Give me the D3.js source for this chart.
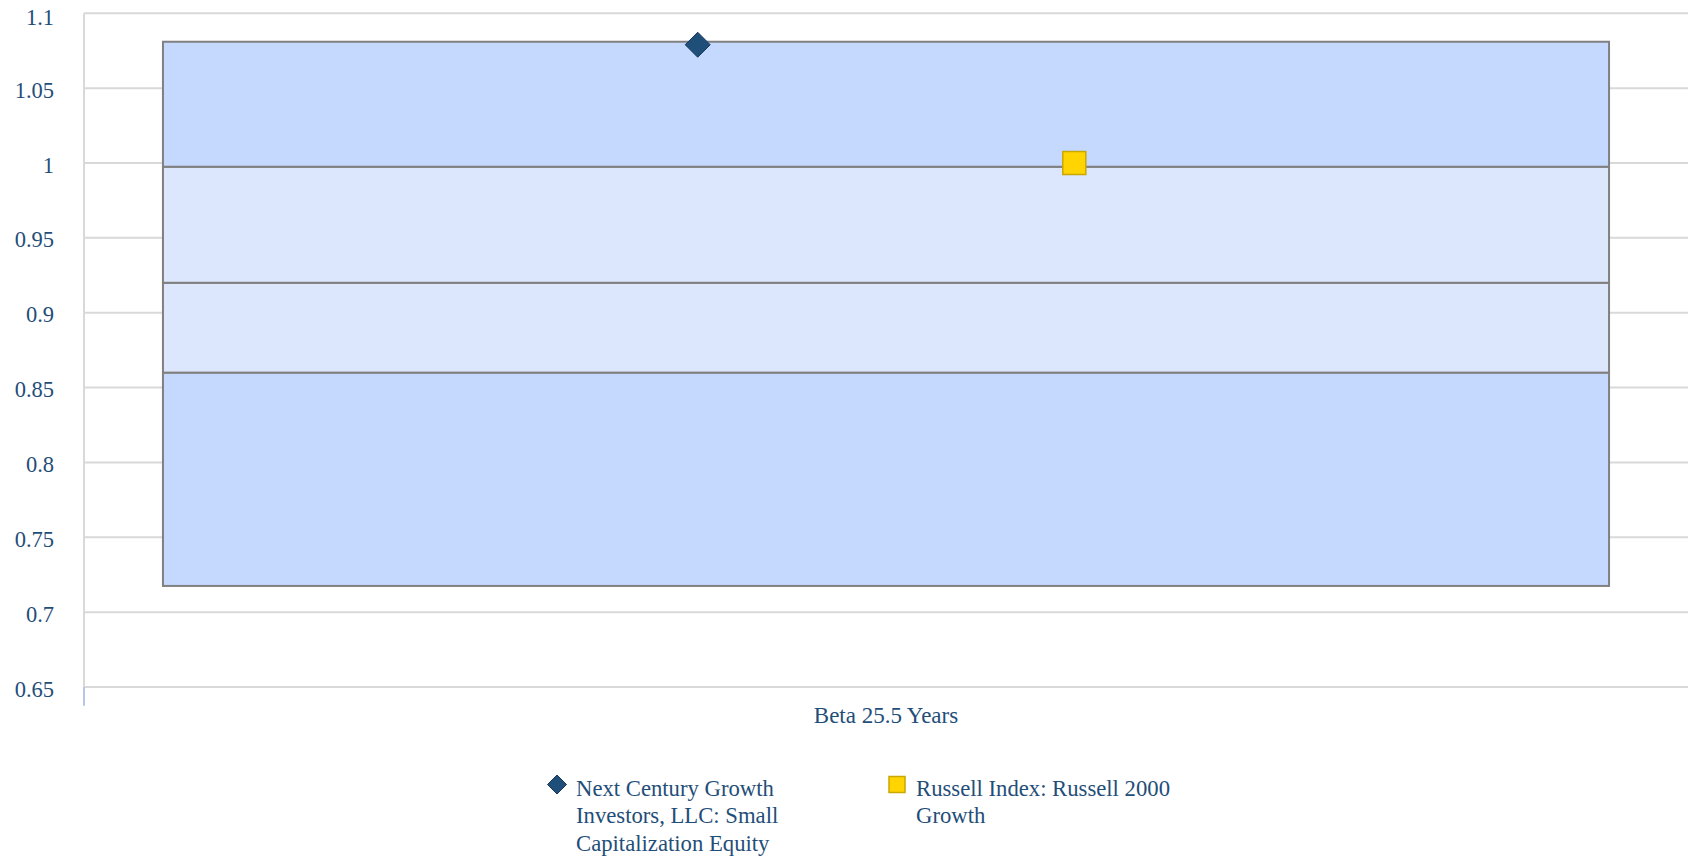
<!DOCTYPE html>
<html>
<head>
<meta charset="utf-8">
<script src="https://cdn.jsdelivr.net/npm/d3@7"></script>
<style>
  body { margin: 0; background: #ffffff; }
  svg { display: block; }
  text { font-family: "Liberation Serif", "Times New Roman", serif; fill: #1f4e79; }
</style>
</head>
<body>
<svg id="chart" width="1688" height="856"></svg>
<script>
// chart values
const categories = ["Beta 25.5 Years"]
const bandEdges = [0.7175, 0.86, 0.92, 0.9975, 1.081]   // 95th, 75th, median, 25th, 5th
const bandFills = ["#c5d8fd", "#dce6fd", "#dce6fd", "#c5d8fd"]
const seriesNames = [
    "Next Century Growth Investors, LLC: Small Capitalization Equity",
    "Russell Index: Russell 2000 Growth"
]
const seriesValues = [1.079, 1.0]
const legendLines = [
    ["Next Century Growth", "Investors, LLC: Small", "Capitalization Equity"],
    ["Russell Index: Russell 2000", "Growth"]
]
const yTicks = [0.65, 0.7, 0.75, 0.8, 0.85, 0.9, 0.95, 1, 1.05, 1.1]

const svg = d3.select("#chart")
const plotLeft = 84, plotRight = 1688, plotTop = 13.3, plotBottom = 687

let y = d3.scaleLinear().domain([0.65, 1.1]).range([plotBottom, plotTop])
let x = d3.scaleBand().domain(categories).range([plotLeft, plotRight]).paddingInner(0).paddingOuter(0.0546)

// grid lines
svg.append("g")
    .selectAll("line")
    .data(yTicks)
    .join("line")
    .attr("x1", plotLeft)
    .attr("x2", plotRight)
    .attr("y1", d => y(d))
    .attr("y2", d => y(d))
    .attr("stroke", "#d9d9d9")
    .attr("stroke-width", 2)

// y axis line
svg.append("line")
    .attr("x1", plotLeft).attr("x2", plotLeft)
    .attr("y1", plotTop).attr("y2", plotBottom)
    .attr("stroke", "#d9d9d9").attr("stroke-width", 2)
svg.append("line")
    .attr("x1", plotLeft).attr("x2", plotLeft)
    .attr("y1", plotBottom).attr("y2", plotBottom + 18.7)
    .attr("stroke", "#b4c7e7").attr("stroke-width", 2)

// tick labels
svg.append("g")
    .selectAll("text")
    .data(yTicks)
    .join("text")
    .attr("x", 54)
    .attr("y", d => y(d) + (d === 1.1 ? 4.5 : 2))
    .attr("text-anchor", "end")
    .attr("dominant-baseline", "central")
    .attr("font-size", 22.5)
    .text(d => d3.format("")(d))

// floating bands
categories.forEach(function(cat) {
    for (let i = 0; i < bandEdges.length - 1; i++) {
        svg.append("rect")
            .attr("x", x(cat))
            .attr("y", y(bandEdges[i + 1]))
            .attr("width", x.bandwidth())
            .attr("height", y(bandEdges[i]) - y(bandEdges[i + 1]))
            .attr("fill", bandFills[i])
            .attr("stroke", "#808080")
            .attr("stroke-width", 2)
    }

    svg.append("text")
        .attr("x", x(cat) + x.bandwidth() / 2)
        .attr("y", 723)
        .attr("text-anchor", "middle")
        .attr("font-size", 23)
        .text(cat)
})

// series markers
let xs = d3.scalePoint().domain(seriesNames).range([x(categories[0]), x(categories[0]) + x.bandwidth()]).padding(1.42)

function drawMarker(g, i, cx, cy, size) {
    let h = size / 2
    if (i === 0) {
        g.append("path")
            .attr("d", `M${cx},${cy - h} L${cx + h},${cy} L${cx},${cy + h} L${cx - h},${cy} Z`)
            .attr("fill", "#1f4e79")
            .attr("stroke", "#17375e")
            .attr("stroke-width", 1)
    } else {
        g.append("rect")
            .attr("x", cx - h).attr("y", cy - h)
            .attr("width", size).attr("height", size)
            .attr("fill", "#ffd400")
            .attr("stroke", "#c9a800")
            .attr("stroke-width", 1.5)
    }
}

seriesValues.forEach(function(v, i) {
    drawMarker(svg, i, xs(seriesNames[i]), y(v), i === 0 ? 25 : 23)
})

// legend
const legendX = [557, 897]
const legendY = 784.5
legendLines.forEach(function(lines, i) {
    drawMarker(svg, i, legendX[i], legendY, i === 0 ? 19 : 16)
    let t = svg.append("text")
        .attr("x", legendX[i] + 19)
        .attr("y", 795.5)
        .attr("font-size", 22.7)
    lines.forEach(function(line, j) {
        t.append("tspan")
            .attr("x", legendX[i] + 19)
            .attr("dy", j === 0 ? 0 : 27.5)
            .text(line)
    })
})
</script>
</body>
</html>
